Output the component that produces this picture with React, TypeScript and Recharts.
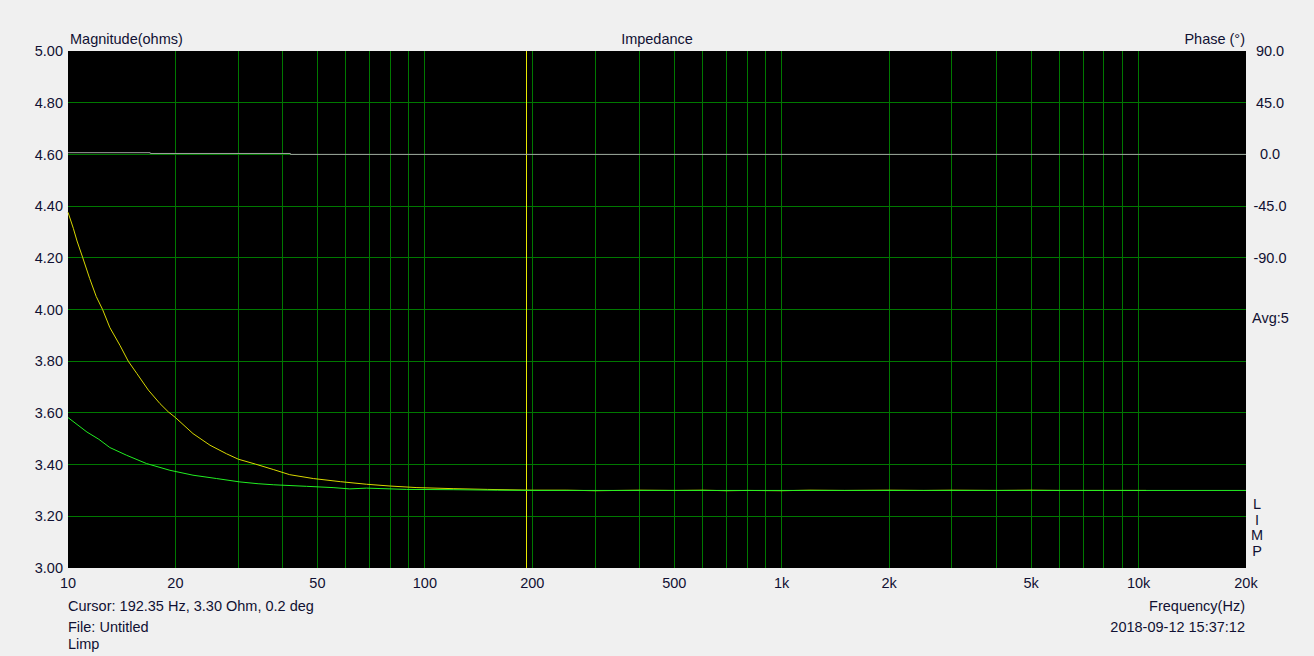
import React from 'react';
import { ComposedChart, Line, XAxis, YAxis, CartesianGrid, ReferenceLine } from 'recharts';

// frequency points (Hz) and magnitude (ohms) for the two traces
const freqYellow = [10, 10.35, 10.6, 11, 11.5, 12, 12.5, 13.1, 14, 14.75, 15.6, 16.8, 18.1, 19.1, 20, 22.4, 25, 27.8, 30, 33.5, 37.6, 41.8, 48.7, 58, 68.6, 80, 95, 120, 150, 200, 250, 300, 400, 500, 600, 700, 800, 1000, 1200, 1500, 2000, 2500, 3000, 4000, 5000, 6000, 8000, 10000, 10500];
const magYellow = [4.376, 4.314, 4.265, 4.2, 4.12, 4.05, 4.0, 3.93, 3.86, 3.8, 3.752, 3.688, 3.636, 3.604, 3.582, 3.52, 3.475, 3.442, 3.421, 3.402, 3.381, 3.361, 3.346, 3.334, 3.324, 3.317, 3.311, 3.307, 3.304, 3.301, 3.301, 3.299, 3.301, 3.3, 3.301, 3.299, 3.3, 3.299, 3.301, 3.3, 3.301, 3.3, 3.301, 3.3, 3.301, 3.3, 3.3, 3.3, 3.3];

const freqGreen = [10, 11.3, 12.2, 13.1, 14.6, 16.6, 19.3, 22.4, 26.1, 30.3, 34.1, 37.6, 46.6, 55.3, 61.6, 68.6, 88.9, 120, 160, 200, 500, 1000, 2000, 5000, 10000, 20000];
const magGreen = [3.582, 3.526, 3.498, 3.466, 3.436, 3.404, 3.378, 3.359, 3.346, 3.333, 3.326, 3.322, 3.316, 3.311, 3.306, 3.309, 3.304, 3.303, 3.301, 3.3, 3.3, 3.3, 3.3, 3.3, 3.3, 3.3];

// phase trace (degrees)
const freqPhase = [10, 17, 17, 42, 42, 20000];
const phaseDeg = [1.5, 1.5, 0.8, 0.8, 0, 0];

const cursorFreq = 192.35;

const xTicks = [10, 20, 50, 100, 200, 500, 1000, 2000, 5000, 10000, 20000];
const magTicks = [3.0, 3.2, 3.4, 3.6, 3.8, 4.0, 4.2, 4.4, 4.6, 4.8, 5.0];
const phaseTicks = [90, 45, 0, -45, -90];
const gridFreqs = [20, 30, 40, 50, 60, 70, 80, 90, 100, 200, 300, 400, 500, 600, 700, 800, 900, 1000, 2000, 3000, 4000, 5000, 6000, 7000, 8000, 9000, 10000];
const gridMags = [3.2, 3.4, 3.6, 3.8, 4.0, 4.2, 4.4, 4.6, 4.8];

const yellowData = freqYellow.map((f, i) => ({ f, v: magYellow[i] }));
const greenData = freqGreen.map((f, i) => ({ f, v: magGreen[i] }));
const phaseData = freqPhase.map((f, i) => ({ f, p: phaseDeg[i] }));

const FONT = '"Liberation Sans", Arial, sans-serif';
const FS = 14.5;
const TXT = '#111133';
const GRID = '#007800';

const fmtFreq = (v: number) => (v >= 1000 ? `${v / 1000}k` : `${v}`);

const RightTick = (props: any) => {
  const { x, y, payload } = props;
  return (
    <text x={x} y={y} dy={5} textAnchor="middle" fill={TXT} fontSize={FS} fontFamily={FONT}>
      {Number(payload.value).toFixed(1)}
    </text>
  );
};

const label = (text: string, style: React.CSSProperties) => (
  <div style={{ position: 'absolute', fontFamily: FONT, fontSize: FS, color: TXT, whiteSpace: 'nowrap', lineHeight: '16px', ...style }}>
    {text}
  </div>
);

export default function App() {
  return (
    <div style={{ position: 'fixed', left: 0, top: 0, width: 1314, height: 656, background: '#f0f0f0' }}>
      <style>{`
        .recharts-cartesian-grid line, .recharts-reference-line line { shape-rendering: crispEdges; }
      `}</style>
      <ComposedChart width={1314} height={656} margin={{ top: 51, right: 8, bottom: 58, left: 8 }}>
        <CartesianGrid
          fill="#000000"
          stroke={GRID}
          strokeWidth={1}
          horizontalValues={gridMags}
          verticalValues={gridFreqs}
          yAxisId="mag"
        />
        <XAxis
          dataKey="f"
          type="number"
          scale="log"
          domain={[10, 20000]}
          ticks={xTicks}
          tickFormatter={fmtFreq}
          allowDuplicatedCategory={false}
          axisLine={false}
          tickLine={false}
          tickSize={0}
          tickMargin={10}
          height={30}
          tick={{ fill: TXT, fontSize: FS, fontFamily: FONT }}
          interval={0}
        />
        <YAxis
          yAxisId="mag"
          domain={[3, 5]}
          ticks={magTicks}
          tickFormatter={(v: number) => v.toFixed(2)}
          axisLine={false}
          tickLine={false}
          tickSize={0}
          tickMargin={5}
          width={60}
          interval={0}
          allowDataOverflow
          tick={{ fill: TXT, fontSize: FS, fontFamily: FONT }}
        />
        <YAxis
          yAxisId="phase"
          orientation="right"
          domain={[-360, 90]}
          ticks={phaseTicks}
          axisLine={false}
          tickLine={false}
          tickSize={0}
          tickMargin={24}
          width={60}
          interval={0}
          allowDataOverflow
          tick={<RightTick />}
        />
        <ReferenceLine yAxisId="mag" x={cursorFreq} stroke="#e8e800" strokeWidth={1} />
        <Line yAxisId="phase" data={phaseData} dataKey="p" stroke="#a0a0a0" strokeWidth={1} dot={false} isAnimationActive={false} />
        <Line yAxisId="mag" data={yellowData} dataKey="v" stroke="#d8d800" strokeWidth={1} dot={false} isAnimationActive={false} />
        <Line yAxisId="mag" data={greenData} dataKey="v" stroke="#22ee22" strokeWidth={1} dot={false} isAnimationActive={false} />
      </ComposedChart>

      {label('Magnitude(ohms)', { left: 70, top: 31 })}
      {label('Impedance', { left: 0, width: 1314, top: 31, textAlign: 'center' })}
      {label('Phase (°)', { right: 69, top: 31 })}
      {label('Avg:5', { left: 1252, top: 310 })}
      <div style={{ position: 'absolute', left: 1250, top: 497, width: 14, fontFamily: FONT, fontSize: FS, color: TXT, lineHeight: '15.5px', textAlign: 'center' }}>
        <div>L</div>
        <div>I</div>
        <div>M</div>
        <div>P</div>
      </div>
      {label('Cursor: 192.35 Hz, 3.30 Ohm, 0.2 deg', { left: 68, top: 598 })}
      {label('File: Untitled', { left: 68, top: 619 })}
      {label('Limp', { left: 68, top: 636 })}
      {label('Frequency(Hz)', { right: 69, top: 598 })}
      {label('2018-09-12 15:37:12', { right: 69, top: 619 })}
    </div>
  );
}
